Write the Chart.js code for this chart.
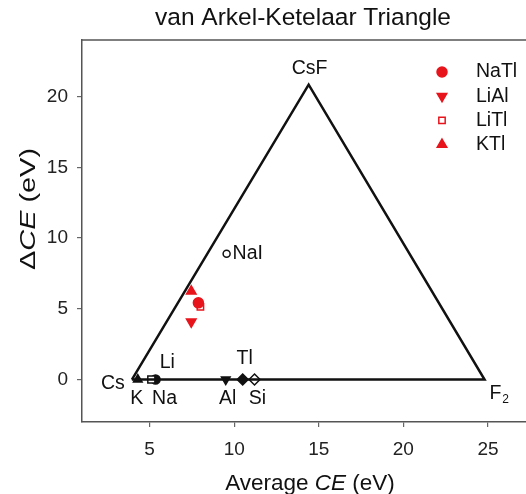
<!DOCTYPE html>
<html>
<head>
<meta charset="utf-8">
<script src="https://cdn.jsdelivr.net/npm/chart.js@4.4.1/dist/chart.umd.min.js"></script>
<style>
  html, body { margin: 0; padding: 0; background: #fff; overflow: hidden; }
  canvas { display: block; }
</style>
</head>
<body>
<canvas id="vak" width="533" height="494"></canvas>
<script>
////////////////////////////////////////////////////////////////////////////////
// data
////////////////////////////////////////////////////////////////////////////////
const TITLE = "van Arkel-Ketelaar Triangle";

// triangle corners: Cs, CsF, F2, back to Cs
const triangleNames = ["Cs", "CsF", "F2", ""];
const triangleAvg   = [3.95, 14.4, 24.8, 3.95];
const triangleDelta = [0, 20.85, 0, 0];

// elements on the bottom edge
const elementNames = ["K", "Li", "Na", "Al", "Tl", "Si"];
const elementAvg   = [4.3, 5.1, 5.35, 9.5, 10.5, 11.2];
const elementDelta = [0, 0, 0, 0, 0, 0];

const naiAvg = 9.55;
const naiDelta = 8.9;

// red compounds
const compoundNames = ["NaTl", "LiAl", "LiTl", "KTl"];
const compoundAvg   = [7.88, 7.46, 8.0, 7.46];
const compoundDelta = [5.42, 4.08, 5.14, 6.24];

const xTicks = [5, 10, 15, 20, 25];
const yTicks = [0, 5, 10, 15, 20];

////////////////////////////////////////////////////////////////////////////////
// styles
////////////////////////////////////////////////////////////////////////////////
const FONT = "'Liberation Sans', Arial, sans-serif";
const RED = "#e8141c";
const BLACK = "#111";
const LABEL_SIZE = 19.5;

// marker style per element / compound
const elementStyle = {
    K:  { pointStyle: "triangle", bg: BLACK, r: 5, rot: 0 },
    Li: { pointStyle: "rect", bg: "#fff", r: 5, rot: 0 },
    Na: { pointStyle: "circle", bg: BLACK, r: 4.5, rot: 0 },
    Al: { pointStyle: "triangle", bg: BLACK, r: 5, rot: 180 },
    Tl: { pointStyle: "rectRot", bg: BLACK, r: 5.5, rot: 0 },
    Si: { pointStyle: "rectRot", bg: "#fff", r: 5.5, rot: 0 },
};
const compoundStyle = {
    NaTl: { pointStyle: "circle", bg: RED, r: 5, rot: 0 },
    LiAl: { pointStyle: "triangle", bg: RED, r: 5.5, rot: 180 },
    LiTl: { pointStyle: "rect", bg: "#fff", r: 4.5, rot: 0 },
    KTl:  { pointStyle: "triangle", bg: RED, r: 5.5, rot: 0 },
};

// label offsets (px) from the data point
const labelOffsets = {
    Cs: [-19, 4], CsF: [1, -16], F2: [14, 14],
    K: [-1, 19], Li: [16, -17], Na: [9, 19],
    Al: [2, 19], Tl: [2, -21], Si: [3, 19],
    NaI: [6, 0],
};

////////////////////////////////////////////////////////////////////////////////
// datasets
////////////////////////////////////////////////////////////////////////////////
const toXY = (xs, ys)=> xs.map((x, i)=>({ x: x, y: ys[i] }));

const datasets = [];
datasets.push({
    label: "triangle",
    data: toXY(triangleAvg, triangleDelta),
    showLine: true,
    borderColor: BLACK,
    borderWidth: 2.5,
    pointRadius: 0,
    fill: false,
});
elementNames.forEach((name, i)=>{
    const s = elementStyle[name];
    datasets.push({
        label: name,
        data: [{ x: elementAvg[i], y: elementDelta[i] }],
        pointStyle: s.pointStyle,
        pointRotation: s.rot,
        pointRadius: s.r,
        backgroundColor: s.bg,
        borderColor: BLACK,
        borderWidth: 1.5,
    });
});
datasets.push({
    label: "NaI",
    data: [{ x: naiAvg, y: naiDelta }],
    pointStyle: "circle",
    pointRadius: 3.5,
    backgroundColor: "#fff",
    borderColor: BLACK,
    borderWidth: 1.5,
});
compoundNames.forEach((name, i)=>{
    const s = compoundStyle[name];
    datasets.push({
        label: name,
        data: [{ x: compoundAvg[i], y: compoundDelta[i] }],
        pointStyle: s.pointStyle,
        pointRotation: s.rot,
        pointRadius: s.r,
        backgroundColor: s.bg,
        borderColor: RED,
        borderWidth: 1.5,
    });
});

////////////////////////////////////////////////////////////////////////////////
// plugins
////////////////////////////////////////////////////////////////////////////////
const drawText = (ctx, text, x, y, size, align)=>{
    ctx.font = size + "px " + FONT;
    ctx.textAlign = align || "center";
    ctx.textBaseline = "middle";
    ctx.fillText(text, x, y);
};

// draw mixed regular / italic runs centered at x, optionally stretched to a length
const drawRuns = (ctx, runs, x, y, size, length)=>{
    let total = 0;
    runs.forEach(r=>{
        ctx.font = (r.italic ? "italic " : "") + size + "px " + FONT;
        r.w = ctx.measureText(r.t).width;
        total += r.w;
    });
    const sx = length ? length / total : 1;
    ctx.save();
    ctx.translate(x, y);
    ctx.scale(sx, 1);
    let cx = -total / 2;
    ctx.textAlign = "left";
    ctx.textBaseline = "middle";
    runs.forEach(r=>{
        ctx.font = (r.italic ? "italic " : "") + size + "px " + FONT;
        ctx.fillText(r.t, cx, 0);
        cx += r.w;
    });
    ctx.restore();
};

const annotations = {
    id: "annotations",
    afterDatasetsDraw(chart){
        const ctx = chart.ctx;
        const xs = chart.scales.x;
        const ys = chart.scales.y;
        const area = chart.chartArea;
        ctx.save();
        ctx.fillStyle = BLACK;

        // top frame line
        ctx.strokeStyle = "#555";
        ctx.lineWidth = 1.5;
        ctx.beginPath();
        ctx.moveTo(area.left, area.top);
        ctx.lineTo(area.right, area.top);
        ctx.stroke();

        // triangle corner labels
        for(let i = 0; i < 3; i++){
            const name = triangleNames[i];
            const off = labelOffsets[name];
            const px = xs.getPixelForValue(triangleAvg[i]) + off[0];
            const py = ys.getPixelForValue(triangleDelta[i]) + off[1];
            if(name === "F2"){
                drawText(ctx, "F", px - 3, py, LABEL_SIZE);
                drawText(ctx, "2", px + 7, py + 6, 12);
            }else{
                drawText(ctx, name, px, py, LABEL_SIZE);
            }
        }
        // element labels
        elementNames.forEach((name, i)=>{
            const off = labelOffsets[name];
            drawText(ctx, name, xs.getPixelForValue(elementAvg[i]) + off[0],
                ys.getPixelForValue(elementDelta[i]) + off[1], LABEL_SIZE);
        });
        // NaI
        drawText(ctx, "NaI", xs.getPixelForValue(naiAvg) + labelOffsets.NaI[0],
            ys.getPixelForValue(naiDelta) + labelOffsets.NaI[1], LABEL_SIZE, "left");

        // legend
        const lx = 442, ly0 = 72, dy = 24.2;
        compoundNames.forEach((name, i)=>{
            const s = compoundStyle[name];
            const y = ly0 + i * dy;
            ctx.fillStyle = s.bg;
            ctx.strokeStyle = RED;
            ctx.lineWidth = 1.5;
            Chart.helpers.drawPoint(ctx, {
                pointStyle: s.pointStyle, radius: s.r, rotation: s.rot, borderWidth: 1.5
            }, lx, y);
            ctx.fillStyle = BLACK;
            drawText(ctx, name, 476, y, LABEL_SIZE, "left");
        });

        // titles
        ctx.fillStyle = BLACK;
        drawText(ctx, TITLE, 303, 18, 24.5);
        drawRuns(ctx, [{ t: "Average " }, { t: "CE", italic: true }, { t: " (eV)" }],
            310, 484, 22.5);
        ctx.translate(29, 209);
        ctx.rotate(-Math.PI / 2);
        drawRuns(ctx, [{ t: "\u0394" }, { t: "CE", italic: true }, { t: " (eV)" }], 0, 0, 22.5, 122);
        ctx.restore();
    }
};

////////////////////////////////////////////////////////////////////////////////
// chart
////////////////////////////////////////////////////////////////////////////////
const createChart = ()=>{
    const canvas = document.querySelector("#vak");
    return new Chart(canvas, {
        type: "scatter",
        data: { datasets: datasets },
        options: {
            responsive: false,
            maintainAspectRatio: false,
            animation: false,
            layout: { padding: { top: 40, right: 1, left: 0, bottom: 0 } },
            plugins: {
                legend: { display: false },
                tooltip: { enabled: false },
            },
            scales: {
                x: {
                    type: "linear",
                    min: 1,
                    max: 27.25,
                    afterBuildTicks: (axis)=>{ axis.ticks = xTicks.map(v=>({ value: v })); },
                    afterFit: (axis)=>{ axis.height = 72; axis.paddingLeft = 0; axis.paddingRight = 0; },
                    grid: { drawOnChartArea: false, drawTicks: true, tickLength: 5, color: "#666", lineWidth: 1.2 },
                    border: { display: true, color: "#555", width: 1.5 },
                    ticks: { color: "#222", font: { family: FONT, size: 19 }, padding: 11, maxRotation: 0 },
                },
                y: {
                    type: "linear",
                    min: -3,
                    max: 24,
                    afterBuildTicks: (axis)=>{ axis.ticks = yTicks.map(v=>({ value: v })); },
                    afterFit: (axis)=>{ axis.width = 82; axis.paddingTop = 0; axis.paddingBottom = 0; },
                    grid: { drawOnChartArea: false, drawTicks: true, tickLength: 5, color: "#666", lineWidth: 1.2 },
                    border: { display: true, color: "#555", width: 1.5 },
                    ticks: { color: "#222", font: { family: FONT, size: 19 }, padding: 9 },
                },
            },
        },
        plugins: [annotations],
    });
};

createChart();
</script>
</body>
</html>
